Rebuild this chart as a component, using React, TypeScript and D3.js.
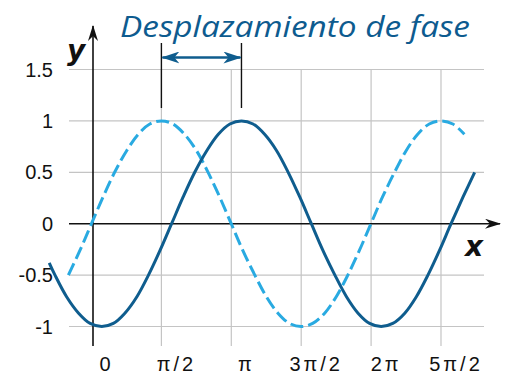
import React, { useEffect, useRef } from "react";
import * as d3 from "d3";

// x in radians, y values
const dashedX = [-0.52, -0.26, 0, 0.26, 0.52, 0.79, 1.05, 1.31, 1.57, 1.83, 2.09, 2.36, 2.62, 2.88, 3.14, 3.4, 3.67, 3.93, 4.19, 4.45, 4.71, 4.97, 5.24, 5.5, 5.76, 6.02, 6.28, 6.54, 6.81, 7.07, 7.33, 7.59, 7.85, 8.12, 8.38];
const dashedY = [-0.5, -0.26, 0, 0.26, 0.5, 0.71, 0.87, 0.97, 1, 0.97, 0.87, 0.71, 0.5, 0.26, 0, -0.26, -0.5, -0.71, -0.87, -0.97, -1, -0.97, -0.87, -0.71, -0.5, -0.26, 0, 0.26, 0.5, 0.71, 0.87, 0.97, 1, 0.97, 0.87];

const solidX = [-0.95, -0.82, -0.56, -0.29, -0.03, 0.23, 0.49, 0.75, 1.02, 1.28, 1.54, 1.8, 2.06, 2.32, 2.59, 2.85, 3.11, 3.37, 3.63, 3.89, 4.16, 4.42, 4.68, 4.94, 5.2, 5.47, 5.73, 5.99, 6.25, 6.51, 6.77, 7.04, 7.3, 7.56, 7.82, 8.08, 8.35, 8.61];
const solidY = [-0.38, -0.5, -0.71, -0.87, -0.97, -1, -0.97, -0.87, -0.71, -0.5, -0.26, 0, 0.26, 0.5, 0.71, 0.87, 0.97, 1, 0.97, 0.87, 0.71, 0.5, 0.26, 0, -0.26, -0.5, -0.71, -0.87, -0.97, -1, -0.97, -0.87, -0.71, -0.5, -0.26, 0, 0.26, 0.5];

const xTicks = [0, Math.PI / 2, Math.PI, (3 * Math.PI) / 2, 2 * Math.PI, (5 * Math.PI) / 2];
const xTickLabels = ["0", "π/2", "π", "3π/2", "2π", "5π/2"];
const yTicks = [1.5, 1, 0.5, 0, -0.5, -1];
const yTickLabels = ["1.5", "1", "0.5", "0", "-0.5", "-1"];

// phase shift annotation: from peak of dashed to peak of solid
const shiftFrom = Math.PI / 2;
const shiftTo = 3.37;

const DARK = "#0f5d8e";
const LIGHT = "#29aae1";

function App() {
  const ref = useRef<SVGSVGElement | null>(null);

  useEffect(() => {
    const svg = d3.select(ref.current);
    svg.selectAll("*").remove();

    const x = d3.scaleLinear().domain([0, 2.5 * Math.PI]).range([91.5, 441]);
    const y = d3.scaleLinear().domain([-1, 1.5]).range([326.5, 69.5]);

    const defs = svg.append("defs");
    defs
      .append("marker")
      .attr("id", "axisHead")
      .attr("viewBox", "0 0 16 10")
      .attr("refX", 15)
      .attr("refY", 5)
      .attr("markerWidth", 16)
      .attr("markerHeight", 10)
      .attr("markerUnits", "userSpaceOnUse")
      .attr("orient", "auto")
      .append("path")
      .attr("d", "M0,0 L16,5 L0,10 L5,5 Z")
      .attr("fill", "#111");
    defs
      .append("marker")
      .attr("id", "blueHead")
      .attr("viewBox", "0 0 18 12")
      .attr("refX", 17)
      .attr("refY", 6)
      .attr("markerWidth", 18)
      .attr("markerHeight", 12)
      .attr("markerUnits", "userSpaceOnUse")
      .attr("orient", "auto-start-reverse")
      .append("path")
      .attr("d", "M0,0 L18,6 L0,12 L5,6 Z")
      .attr("fill", DARK);

    // grid
    const g = svg.append("g");
    yTicks
      .filter((t) => t !== 0)
      .forEach((t) =>
        g
          .append("line")
          .attr("x1", 69)
          .attr("x2", 484)
          .attr("y1", y(t))
          .attr("y2", y(t))
          .attr("stroke", "#c4c4c4")
          .attr("stroke-width", 1.2)
      );
    xTicks
      .filter((t) => t !== 0)
      .forEach((t) =>
        g
          .append("line")
          .attr("x1", x(t))
          .attr("x2", x(t))
          .attr("y1", 69)
          .attr("y2", 346)
          .attr("stroke", "#c4c4c4")
          .attr("stroke-width", 1.2)
      );

    // axes
    svg
      .append("line")
      .attr("x1", 69)
      .attr("x2", 500)
      .attr("y1", y(0))
      .attr("y2", y(0))
      .attr("stroke", "#111")
      .attr("stroke-width", 1.6)
      .attr("marker-end", "url(#axisHead)");
    svg
      .append("line")
      .attr("x1", 93)
      .attr("x2", 93)
      .attr("y1", 346)
      .attr("y2", 26)
      .attr("stroke", "#111")
      .attr("stroke-width", 1.6)
      .attr("marker-end", "url(#axisHead)");

    // tick labels
    yTicks.forEach((t, i) =>
      svg
        .append("text")
        .attr("x", 53)
        .attr("y", y(t) + 7)
        .attr("text-anchor", "end")
        .attr("font-family", "Liberation Sans, Arial, sans-serif")
        .attr("font-size", 20)
        .attr("fill", "#111")
        .text(yTickLabels[i])
    );
    xTicks.forEach((t, i) =>
      svg
        .append("text")
        .attr("x", x(t) + 15)
        .attr("y", 371)
        .attr("text-anchor", "middle")
        .attr("font-family", "Liberation Sans, Arial, sans-serif")
        .attr("font-size", 20)
        .attr("letter-spacing", 3)
        .attr("fill", "#111")
        .text(xTickLabels[i])
    );

    // axis names
    svg
      .append("text")
      .attr("x", 67)
      .attr("y", 60)
      .attr("font-family", "DejaVu Sans, sans-serif")
      .attr("font-weight", "bold")
      .attr("font-style", "italic")
      .attr("font-size", 28)
      .attr("fill", "#111")
      .text("y");
    svg
      .append("text")
      .attr("x", 465)
      .attr("y", 256)
      .attr("font-family", "DejaVu Sans, sans-serif")
      .attr("font-weight", "bold")
      .attr("font-style", "italic")
      .attr("font-size", 28)
      .attr("fill", "#111")
      .text("x");

    // curves
    const line = d3
      .line<[number, number]>()
      .x((d) => x(d[0]))
      .y((d) => y(d[1]))
      .curve(d3.curveCatmullRom);

    svg
      .append("path")
      .datum(dashedX.map((v, i) => [v, dashedY[i]] as [number, number]))
      .attr("d", line)
      .attr("fill", "none")
      .attr("stroke", LIGHT)
      .attr("stroke-width", 3)
      .attr("stroke-dasharray", "13,5");

    svg
      .append("path")
      .datum(solidX.map((v, i) => [v, solidY[i]] as [number, number]))
      .attr("d", line)
      .attr("fill", "none")
      .attr("stroke", DARK)
      .attr("stroke-width", 3);

    // phase shift annotation
    [shiftFrom, shiftTo].forEach((v) =>
      svg
        .append("line")
        .attr("x1", x(v))
        .attr("x2", x(v))
        .attr("y1", 43)
        .attr("y2", 108)
        .attr("stroke", "#111")
        .attr("stroke-width", 1.4)
    );
    svg
      .append("line")
      .attr("x1", x(shiftFrom) + 1)
      .attr("x2", x(shiftTo) - 1)
      .attr("y1", 57.5)
      .attr("y2", 57.5)
      .attr("stroke", DARK)
      .attr("stroke-width", 2.5)
      .attr("marker-start", "url(#blueHead)")
      .attr("marker-end", "url(#blueHead)");

    svg
      .append("text")
      .attr("x", 120)
      .attr("y", 37)
      .attr("font-family", "Open Sans, sans-serif")
      .attr("font-style", "italic")
      .attr("font-size", 29)
      .attr("textLength", 350)
      .attr("lengthAdjust", "spacingAndGlyphs")
      .attr("fill", "#0d5b8f")
      .text("Desplazamiento de fase");

    return () => {
      svg.selectAll("*").remove();
    };
  }, []);

  return (
    <svg
      ref={ref}
      width={516}
      height={389}
      style={{ position: "absolute", left: 0, top: 0, background: "#fff" }}
    />
  );
}

export default App;
